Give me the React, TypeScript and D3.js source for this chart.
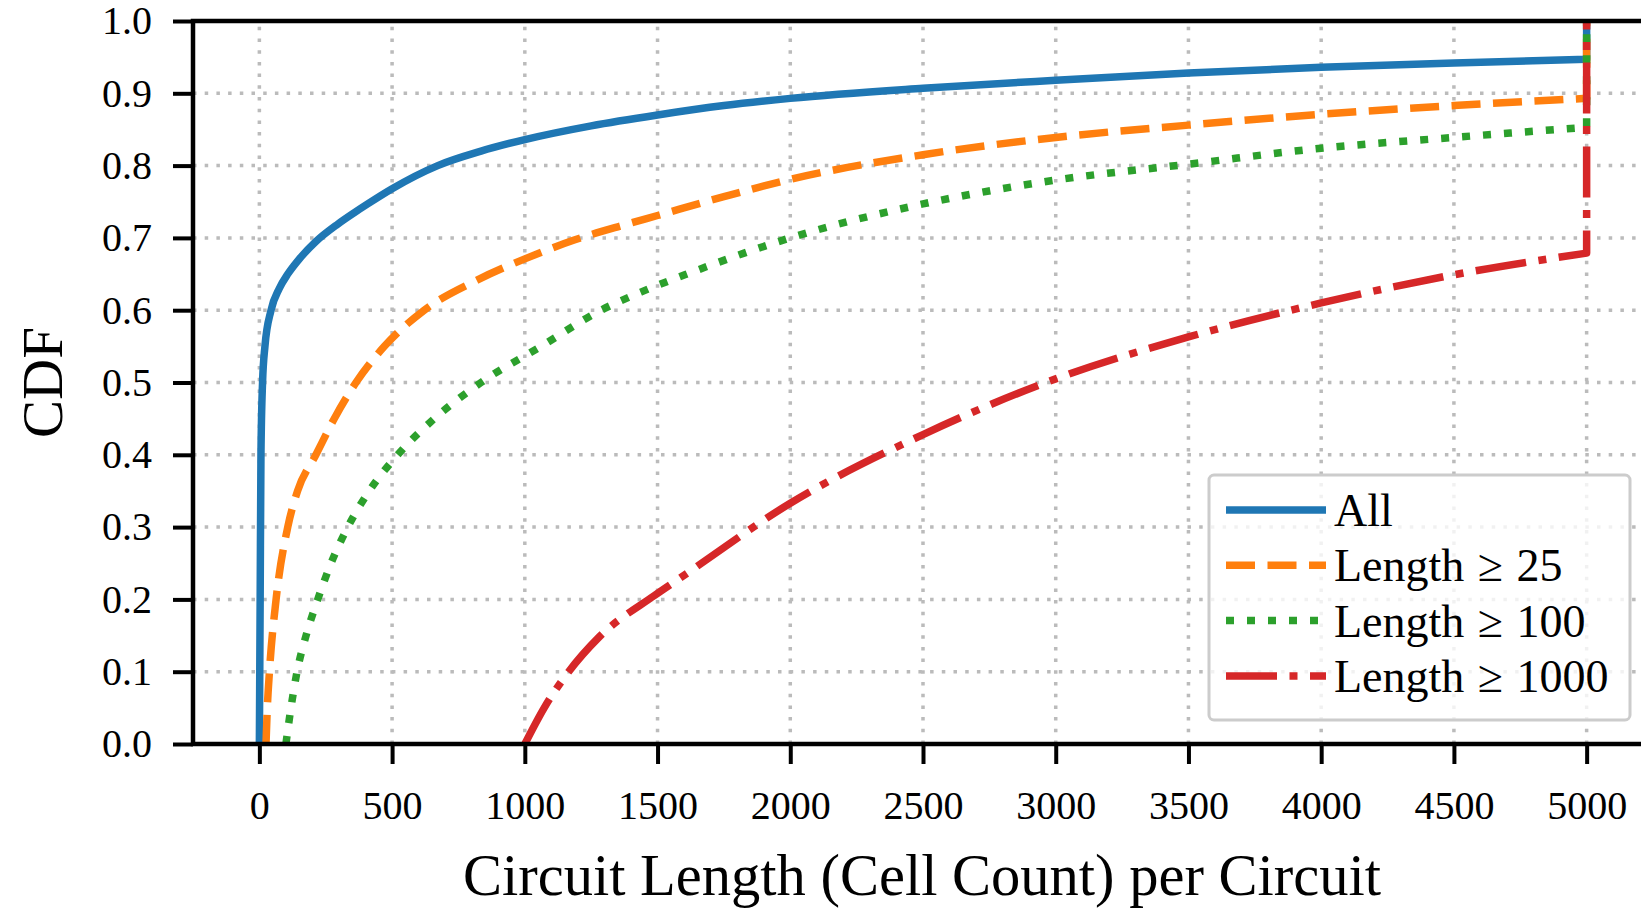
import React, { useEffect, useRef } from 'react';
import * as d3 from 'd3';

// CDF of circuit length
const allX = [0, 3, 6, 12, 21, 44, 75, 107, 144, 213, 295, 358, 408, 500, 672, 835, 1000, 1250, 1500, 1750, 2000, 2500, 3000, 3500, 4000, 4500, 5000, 5000];
const allY = [0, 0.2, 0.4, 0.5, 0.55, 0.6, 0.63, 0.65, 0.668, 0.695, 0.719, 0.735, 0.747, 0.768, 0.8, 0.82, 0.836, 0.855, 0.87, 0.883, 0.893, 0.907, 0.918, 0.928, 0.936, 0.942, 0.947, 1.0];

const len25X = [25, 30, 38, 63, 107, 144, 213, 282, 364, 471, 621, 822, 1000, 1186, 1375, 1500, 1750, 2000, 2500, 3000, 3500, 4000, 4500, 5000, 5000];
const len25Y = [0, 0.05, 0.1, 0.2, 0.3, 0.35, 0.4, 0.45, 0.5, 0.55, 0.6, 0.642, 0.671, 0.697, 0.718, 0.731, 0.757, 0.781, 0.815, 0.839, 0.856, 0.871, 0.883, 0.893, 1.0];

const len100X = [100, 119, 142, 176, 220, 270, 333, 414, 521, 659, 835, 1061, 1287, 1437, 1625, 2000, 2500, 3000, 3500, 4000, 4500, 5000, 5000];
const len100Y = [0, 0.05, 0.1, 0.15, 0.2, 0.25, 0.3, 0.35, 0.4, 0.45, 0.5, 0.55, 0.6, 0.625, 0.652, 0.7, 0.747, 0.78, 0.802, 0.824, 0.839, 0.853, 1.0];

const len1000X = [1000, 1073, 1161, 1280, 1487, 1587, 2000, 2500, 3000, 3500, 4000, 4500, 5000, 5000];
const len1000Y = [0, 0.05, 0.098, 0.148, 0.205, 0.23, 0.333, 0.428, 0.505, 0.563, 0.61, 0.649, 0.679, 1.0];

const seriesNames = ['All', 'Length \u2265 25', 'Length \u2265 100', 'Length \u2265 1000'];
const xTicks = [0, 500, 1000, 1500, 2000, 2500, 3000, 3500, 4000, 4500, 5000];
const yTicks = [0, 0.1, 0.2, 0.3, 0.4, 0.5, 0.6, 0.7, 0.8, 0.9, 1.0];

const W = 1641;
const H = 908;
const FONT = '"Liberation Serif", "DejaVu Serif", serif';

export default function App() {
    const ref = useRef<SVGSVGElement>(null);

    useEffect(() => {
        const svg = d3.select(ref.current);
        svg.selectAll('*').remove();

        const left = 193, right = 1653, top = 21, bottom = 744;
        const x = d3.scaleLinear().domain([-250, 5250]).range([left, right]);
        const y = d3.scaleLinear().domain([0, 1]).range([bottom, top]);

        const series = [
            { name: seriesNames[0], xs: allX, ys: allY, color: '#1f77b4', dash: null },
            { name: seriesNames[1], xs: len25X, ys: len25Y, color: '#ff7f0e', dash: '29,12.5' },
            { name: seriesNames[2], xs: len100X, ys: len100Y, color: '#2ca02c', dash: '8,13' },
            { name: seriesNames[3], xs: len1000X, ys: len1000Y, color: '#d62728', dash: '51,12.5,8,12.5' },
        ];

        svg.append('rect').attr('width', W).attr('height', H).attr('fill', '#fff');

        svg.append('defs').append('clipPath').attr('id', 'plot')
            .append('rect')
            .attr('x', left).attr('y', top)
            .attr('width', right - left).attr('height', bottom - top);

        // grid
        const grid = svg.append('g')
            .attr('stroke', '#b0b0b0')
            .attr('stroke-width', 3.5)
            .attr('stroke-dasharray', '3.5,8.2')
            .attr('opacity', 0.85);
        grid.selectAll('.gx').data(xTicks).enter().append('line')
            .attr('x1', (d) => x(d)).attr('x2', (d) => x(d))
            .attr('y1', bottom).attr('y2', top);
        grid.selectAll('.gy').data(yTicks).enter().append('line')
            .attr('x1', left).attr('x2', right)
            .attr('y1', (d) => y(d)).attr('y2', (d) => y(d));

        // curves: smooth part, then the jump to 1.0 at the 5000 cap
        const smooth = d3.line<[number, number]>()
            .x((d) => x(d[0])).y((d) => y(d[1]))
            .curve(d3.curveMonotoneX);
        const curves = svg.append('g').attr('clip-path', 'url(#plot)');
        series.forEach((s) => {
            const pts = s.xs.map((v, i) => [v, s.ys[i]] as [number, number]);
            const last = pts[pts.length - 1];
            const d = smooth(pts.slice(0, -1)) + `L${x(last[0])},${y(last[1])}`;
            curves.append('path')
                .attr('d', d)
                .attr('fill', 'none')
                .attr('stroke', s.color)
                .attr('stroke-width', 7.5)
                .attr('stroke-linejoin', 'round')
                .attr('stroke-dasharray', s.dash);
        });

        // axes
        const xAxis = svg.append('g')
            .attr('transform', `translate(0, ${bottom})`)
            .call(d3.axisBottom(x).tickValues(xTicks).tickSize(20).tickPadding(27).tickFormat(d3.format('d')));
        const yAxis = svg.append('g')
            .attr('transform', `translate(${left}, 0)`)
            .call(d3.axisLeft(y).tickValues(yTicks).tickSize(20).tickPadding(21).tickFormat(d3.format('.1f')));
        [xAxis, yAxis].forEach((a) => {
            a.select('.domain').remove();
            a.selectAll('line').attr('stroke', '#000').attr('stroke-width', 4);
            a.selectAll('text').attr('fill', '#000').attr('font-family', FONT).attr('font-size', 40);
        });

        // spines
        svg.append('path')
            .attr('d', `M${right},${top}H${left}V${bottom}H${right}`)
            .attr('stroke', '#000').attr('stroke-width', 4.5).attr('fill', 'none')
            .attr('stroke-linecap', 'square');

        // axis labels
        svg.append('text')
            .attr('x', (left + right) / 2 - 1).attr('y', 895)
            .attr('text-anchor', 'middle')
            .attr('font-family', FONT).attr('font-size', 58.5)
            .text('Circuit Length (Cell Count) per Circuit');
        svg.append('text')
            .attr('transform', `translate(62, ${(top + bottom) / 2}) rotate(-90)`)
            .attr('text-anchor', 'middle')
            .attr('font-family', FONT).attr('font-size', 57)
            .text('CDF');

        // legend
        const lg = svg.append('g');
        lg.append('rect')
            .attr('x', 1209).attr('y', 475).attr('width', 421).attr('height', 245).attr('rx', 5)
            .attr('fill', '#fff').attr('fill-opacity', 0.8)
            .attr('stroke', '#cccccc').attr('stroke-width', 3);
        series.forEach((s, i) => {
            const ly = 510 + i * 55.3;
            lg.append('line')
                .attr('x1', 1226).attr('x2', 1326).attr('y1', ly).attr('y2', ly)
                .attr('stroke', s.color).attr('stroke-width', 7.5)
                .attr('stroke-dasharray', s.dash);
            lg.append('text')
                .attr('x', 1334).attr('y', ly + 16)
                .attr('font-family', FONT).attr('font-size', 46)
                .attr('word-spacing', 2)
                .text(s.name);
        });
    }, []);

    return (
        <svg ref={ref} width={W} height={H} style={{ position: 'fixed', left: 0, top: 0, display: 'block' }} />
    );
}
